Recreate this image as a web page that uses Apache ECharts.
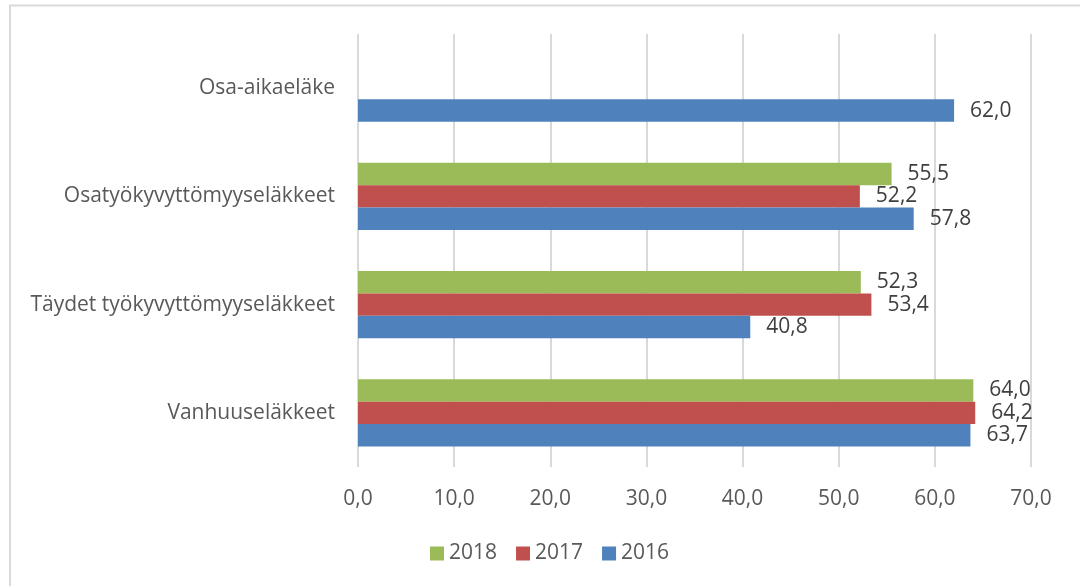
<!DOCTYPE html>
<html>
<head>
<meta charset="utf-8">
<script src="https://cdn.jsdelivr.net/npm/echarts@6/dist/echarts.min.js"></script>
<style>
html,body{margin:0;padding:0;background:#fff;}
#chart{width:1080px;height:586px;}
</style>
</head>
<body>
<div id="chart"></div>
<script>
const categories = ['Vanhuuseläkkeet', 'Täydet työkyvyttömyyseläkkeet', 'Osatyökyvyttömyyseläkkeet', 'Osa-aikaeläke'];
const seriesNames = ['2018', '2017', '2016'];
const values2018 = [64.0, 52.3, 55.5, null];
const values2017 = [64.2, 53.4, 52.2, null];
const values2016 = [63.7, 40.8, 57.8, 62.0];
const xTicks = { min: 0, max: 70, interval: 10 };

const colors = ['#9BBB59', '#C0504D', '#4F81BD'];
const fontFamily = '"Open Sans", sans-serif';
const fmt = v => Number(v).toFixed(1).replace('.', ',');

const chart = echarts.init(document.getElementById('chart'));
const dataSets = [values2018, values2017, values2016];
chart.setOption({
  animation: false,
  graphic: [{
    type: 'rect', silent: true, z: -10,
    shape: { x: 10, y: 5.5, width: 1200, height: 700 },
    style: { fill: 'none', stroke: '#d9d9d9', lineWidth: 2 }
  }],
  grid: { left: 358, right: 49, top: 34, bottom: 119 },
  legend: {
    data: seriesNames,
    bottom: 22,
    left: 430,
    padding: 0,
    icon: 'rect',
    itemWidth: 14, itemHeight: 14, itemGap: 19,
    textStyle: { color: '#595959', fontSize: 21, fontFamily: fontFamily, padding: [0, 0, 0, 0] }
  },
  xAxis: {
    type: 'value', min: xTicks.min, max: xTicks.max, interval: xTicks.interval,
    axisLine: { show: false }, axisTick: { show: false },
    splitLine: { lineStyle: { color: '#d9d9d9', width: 2 } },
    axisLabel: { formatter: fmt, color: '#595959', fontSize: 21, fontFamily: fontFamily, margin: 22 }
  },
  yAxis: {
    type: 'category', data: categories,
    axisLine: { show: false }, axisTick: { show: false },
    axisLabel: { color: '#595959', fontSize: 21, fontFamily: fontFamily, margin: 23 }
  },
  series: dataSets.map((d, i) => ({
    name: seriesNames[i], type: 'bar', data: d,
    barGap: '0%', barCategoryGap: '37.7%',
    itemStyle: { color: colors[i] },
    label: {
      show: true, position: 'right', distance: 16,
      formatter: p => p.value == null ? '' : fmt(p.value),
      color: '#404040', fontSize: 21, fontFamily: fontFamily
    }
  }))
});
</script>
</body>
</html>
